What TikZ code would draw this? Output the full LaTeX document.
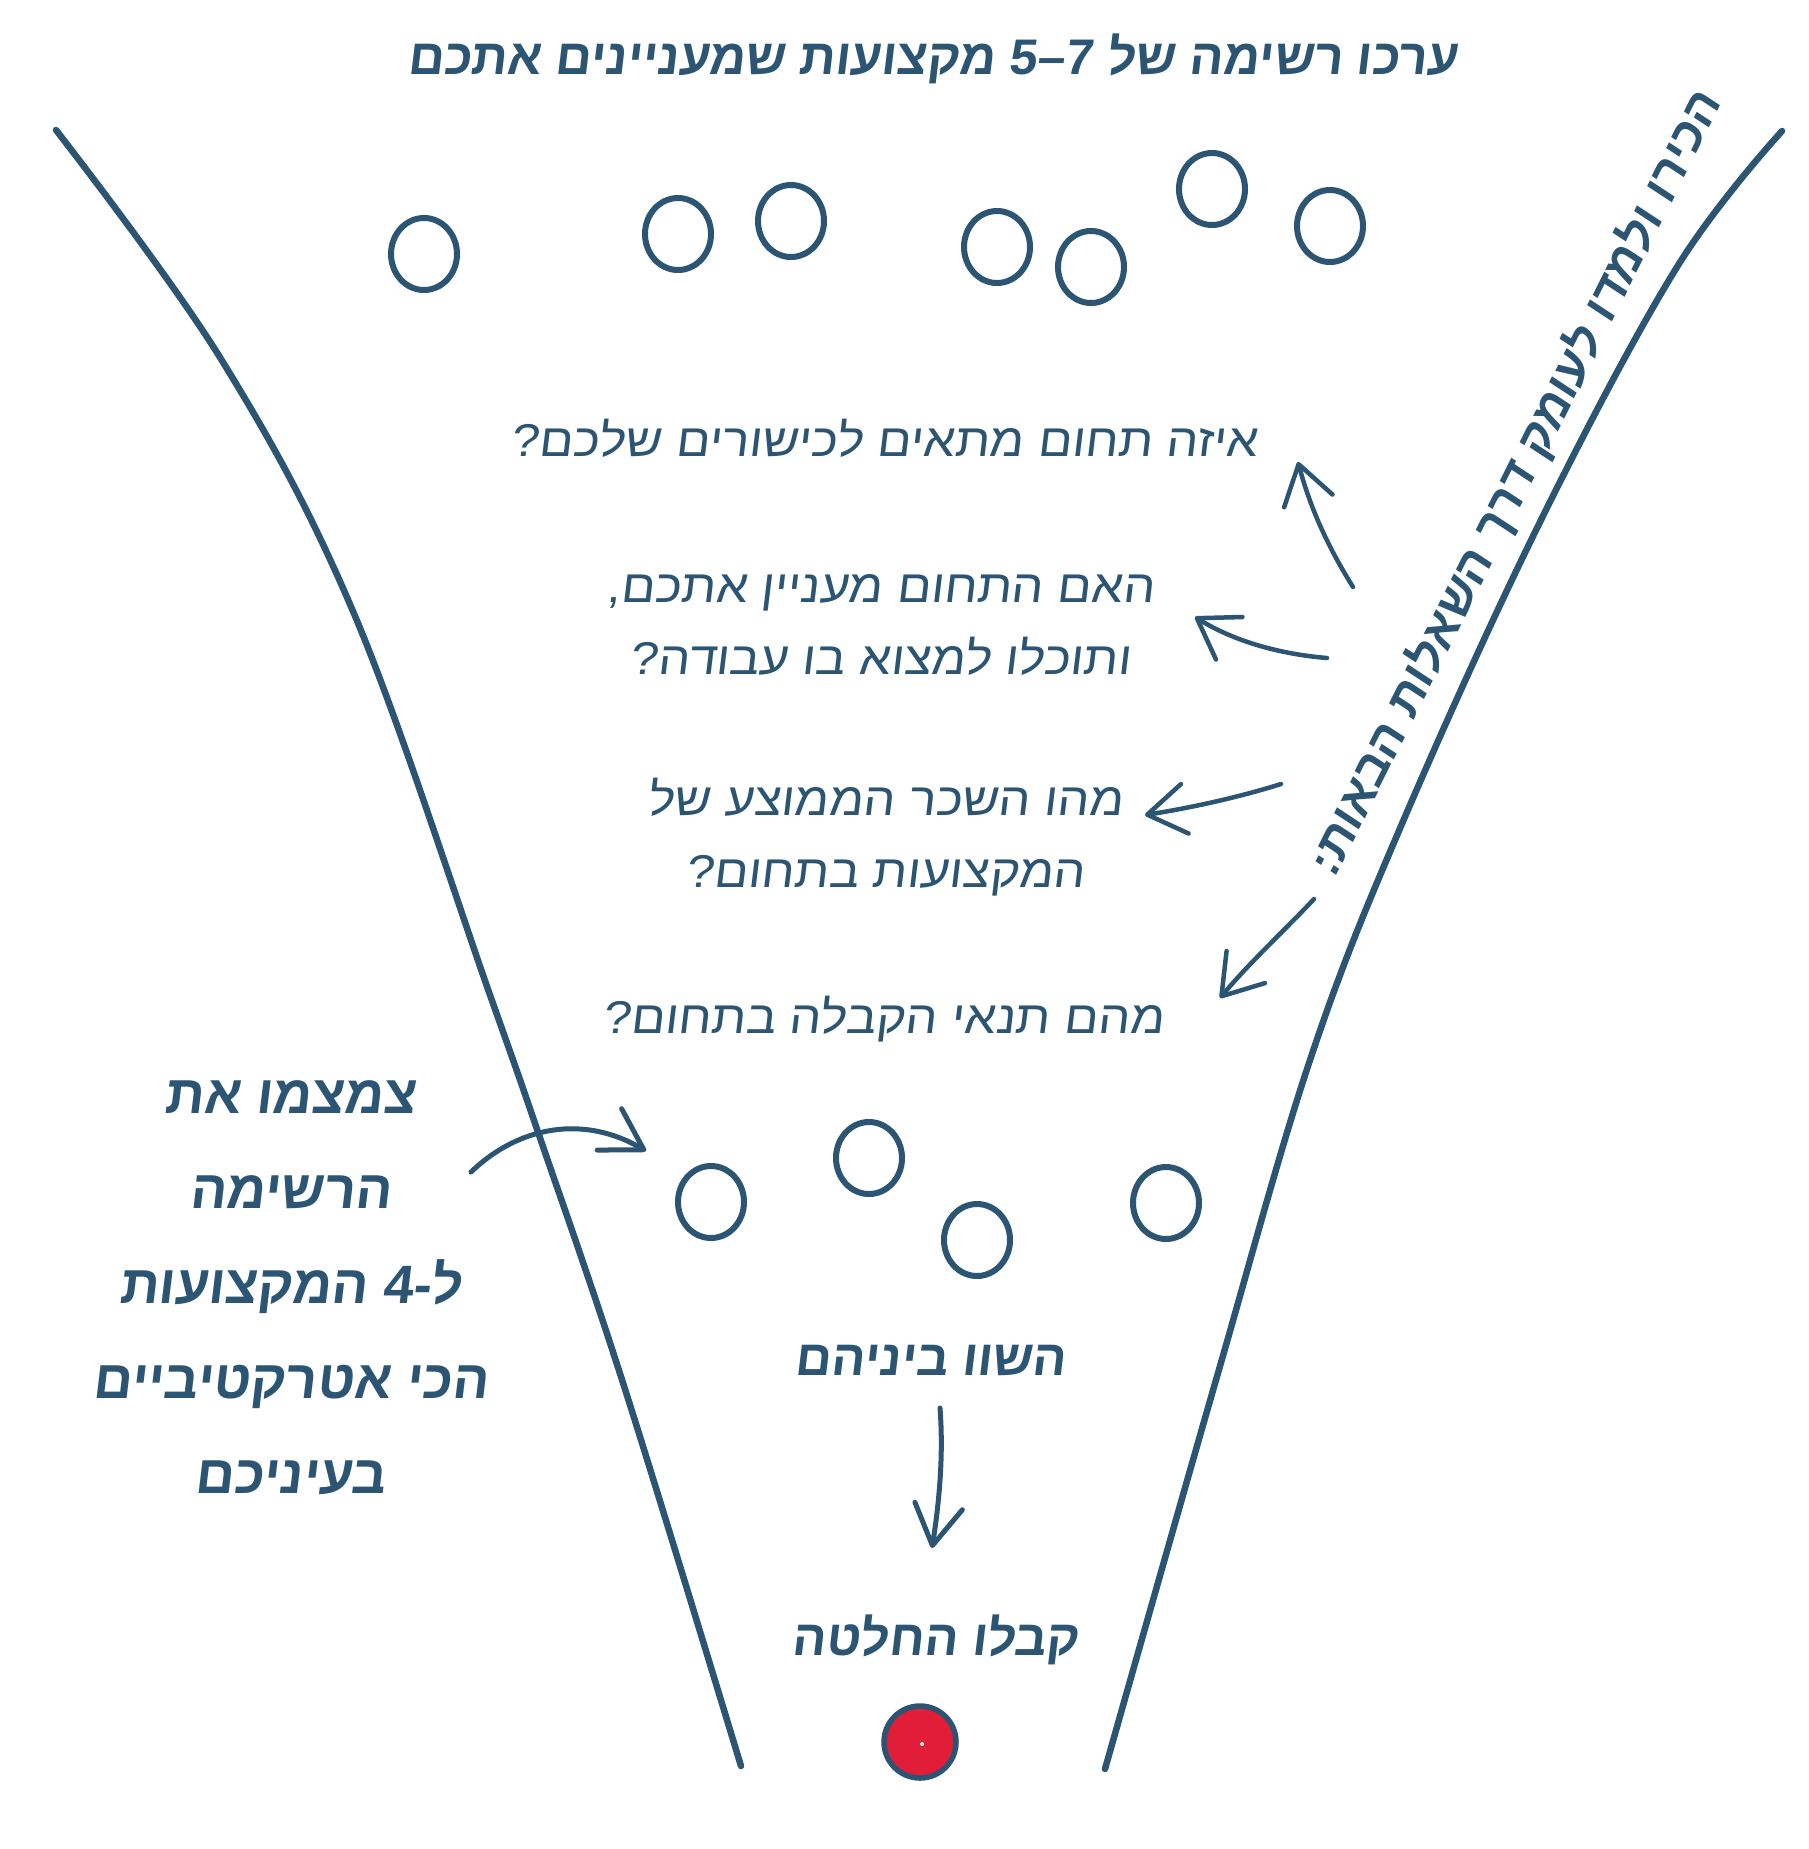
\documentclass[tikz,border=0pt]{standalone}
\usepackage{fontspec}
\TeXXeTstate=1
\newfontfamily\heb[Script=Hebrew,FakeSlant=0.12]{Liberation Sans}
\newfontfamily\hebq[Script=Hebrew,FakeSlant=0.12,FakeStretch=1.09]{Liberation Sans}
\newfontfamily\numf[FakeSlant=0.12]{Liberation Sans}
\usetikzlibrary{arrows.meta,shapes.geometric}
\definecolor{ink}{HTML}{2B5573}
\definecolor{dotred}{HTML}{E21D38}
\begin{document}
\begin{tikzpicture}[x=1pt,y=-1pt,
  funnel/.style={draw=ink,line width=6.5,line cap=round},
  ball/.style={draw=ink,line width=6,ellipse,minimum width=66,minimum height=72,inner sep=0},
  qtext/.style={text=ink,align=center,font=\hebq\fontsize{46}{72}\selectfont},
  btext/.style={text=ink,align=center,font=\heb\bfseries\fontsize{50}{95}\selectfont},
  arr/.style={draw=ink,line width=5,line cap=round,-{Straight Barb[length=40,width=48,line width=5,round]}},
  thinarr/.style={draw=ink,line width=4.5,line cap=round,-{Straight Barb[length=38,width=50,line width=4.5,round]}}]
\useasboundingbox (0,0) rectangle (1808,1849);
\fill[white] (0,0) rectangle (1808,1849);
% funnel
\draw[funnel] plot[smooth,tension=0.6] coordinates {(56,130) (221,359) (355,616) (490,995) (539,1135) (624,1386) (741,1766)};
\draw[funnel] plot[smooth,tension=0.6] coordinates {(1782,131) (1677,267) (1539,524) (1401,826) (1310,1060) (1218,1373) (1105,1769)};
% title
\node[btext,font=\heb\bfseries\fontsize{50}{60}\selectfont] (title) at (932,59) {\beginR ערכו רשימה של \beginL{\numf\bfseries 5–7}\endL{} מקצועות שמעניינים אתכם\endR};
% top circles
\node[ball] (t1) at (424,254) {};
\node[ball] (t2) at (678,234) {};
\node[ball] (t3) at (791,221) {};
\node[ball] (t4) at (997,247) {};
\node[ball] (t5) at (1091,267) {};
\node[ball] (t6) at (1212,189) {};
\node[ball] (t7) at (1330,226) {};
% questions
\node[qtext] (q1) at (884,438) {\beginR איזה תחום מתאים לכישורים שלכם?\endR};
\node[qtext] (q2) at (880,625) {\beginR האם התחום מעניין אתכם,\endR\\\beginR ותוכלו למצוא בו עבודה?\endR};
\node[qtext] (q3) at (885,837) {\beginR מהו השכר הממוצע של\endR\\\beginR המקצועות בתחום?\endR};
\node[qtext] (q4) at (883,1019) {\beginR מהם תנאי הקבלה בתחום?\endR};
% rotated label
\node[btext,font=\heb\bfseries\fontsize{48.5}{60}\selectfont,rotate=63.5] (side) at (1515,484) {\beginR הכירו ולמדו לעומק דרך השאלות הבאות:\endR};
% arrows from side label
\coordinate (a1s) at (1353,587); \coordinate (a1e) at (1298,462);
\coordinate (a2s) at (1327,658); \coordinate (a2e) at (1195,617);
\coordinate (a3s) at (1281,784); \coordinate (a3e) at (1145,815);
\coordinate (a4s) at (1314,899); \coordinate (a4e) at (1220,998);
\draw[thinarr] (a1s) .. controls (1333,555) and (1312,515) .. (a1e);
\draw[thinarr] (a2s) .. controls (1290,655) and (1240,645) .. (a2e);
\draw[thinarr] (a3s) .. controls (1240,797) and (1190,808) .. (a3e);
\draw[thinarr] (a4s) .. controls (1285,930) and (1250,962) .. (a4e);
% left label
\node[btext,font=\heb\bfseries\fontsize{54}{95}\selectfont] (left) at (290,1288) {\beginR צמצמו את\endR\\\beginR הרשימה\endR\\\beginR ל-4 המקצועות\endR\\\beginR הכי אטרקטיביים\endR\\\beginR בעיניכם\endR};
\coordinate (la) at (471,1172);
\coordinate (lb) at (646,1151);
\draw[arr] (la) .. controls (520,1125) and (585,1115) .. (lb);
% bottom circles
\node[ball] (b1) at (711,1202) {};
\node[ball] (b2) at (869,1158) {};
\node[ball] (b3) at (977,1240) {};
\node[ball] (b4) at (1166,1203) {};
% compare / decide
\node[btext] (cmp) at (930,1360) {\beginR השוו ביניהם\endR};
\node[btext] (dec) at (935,1640) {\beginR קבלו החלטה\endR};
\coordinate (ds) at (940,1408);
\coordinate (de) at (932,1548);
\draw[arr] (ds) .. controls (944,1460) and (938,1510) .. (de);
% final dot
\node[circle,draw=ink,line width=5.5,fill=dotred,minimum size=72,inner sep=0] (final) at (920,1742) {};
\fill[white] (922,1744) circle (2);
\end{tikzpicture}
\end{document}
